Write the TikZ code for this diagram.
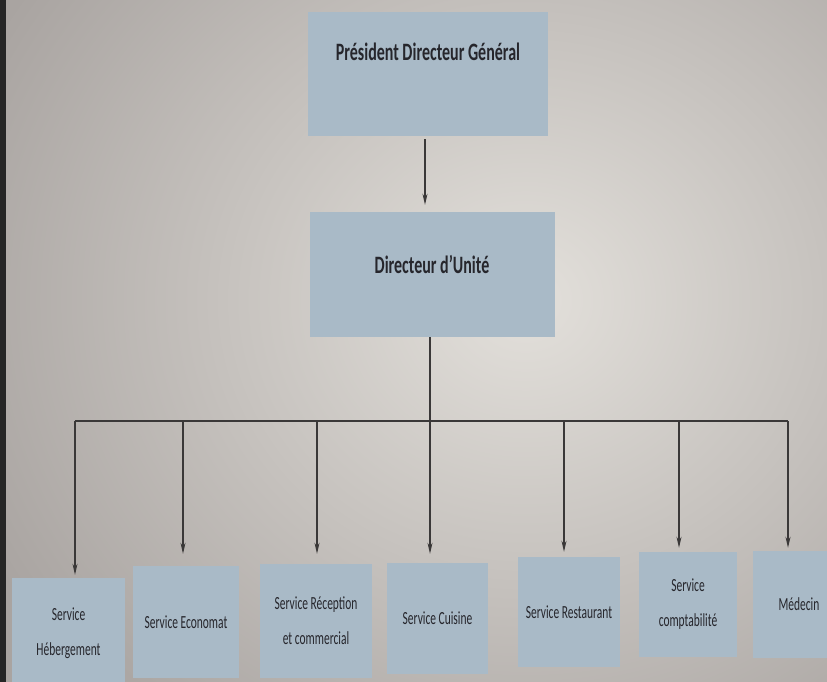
\documentclass[tikz,border=0pt]{standalone}
\usepackage{fontspec}
\setmainfont{Carlito}[FakeStretch=0.62]
\newfontfamily\titlefont{Carlito}[FakeStretch=0.64]
\usetikzlibrary{arrows.meta}
\definecolor{boxc}{HTML}{A9BAC7}
\definecolor{linec}{HTML}{3A3838}
\definecolor{bgin}{HTML}{E3E0DB}
\definecolor{bgout}{HTML}{A9A4A1}
\definecolor{txtc}{HTML}{26262C}
\tikzset{
 box/.style={fill=boxc, inner sep=0pt, text=txtc, align=center},
 conn/.style={draw=linec, line width=1.2pt},
 arr/.style={conn, -{Stealth[length=11pt,width=5pt]}},
 small/.style={font=\fontsize{18.5}{35}\selectfont},
 big/.style={font=\titlefont\bfseries\fontsize{25}{28}\selectfont, text=txtc},
}
\begin{document}
\begin{tikzpicture}[x=1pt,y=-1pt]
\useasboundingbox (0,0) rectangle (827,682);
\clip (0,0) rectangle (827,682);
\shade[inner color=bgin, outer color=bgout] (-80,-250) rectangle (1130,850);
\fill[black!85] (0,0) rectangle (6,682);
% top boxes
\node[box, minimum width=240pt, minimum height=124pt] (pdg) at (428,74) {};
\node[big] (pdgt) at (428,52) {Président Directeur Général};
\node[box, minimum width=245pt, minimum height=125pt] (dir) at (432.5,274.5) {};
\node[big] (dirt) at (432,264) {Directeur d’Unité};
% bottom boxes
\node[box, small, minimum width=113pt, minimum height=110pt] (s1) at (68.5,633) {Service\\Hébergement};
\node[box, small, minimum width=106pt, minimum height=112pt] (s2) at (186,622) {Service Economat};
\node[box, small, minimum width=112pt, minimum height=114pt] (s3) at (316,621) {Service Réception\\et commercial};
\node[box, small, minimum width=101pt, minimum height=111pt] (s4) at (437.5,618.5) {Service Cuisine};
\node[box, small, minimum width=102pt, minimum height=110pt] (s5) at (569,612) {Service Restaurant};
\node[box, small, minimum width=98pt, minimum height=105pt] (s6) at (688,604.5) {Service\\comptabilité};
\node[box, small, minimum width=92pt, minimum height=107pt] (s7) at (799,604.5) {Médecin};
% connectors
\draw[arr, shorten <=3pt, shorten >=7pt] ([xshift=-3pt]pdg.south) -- ([xshift=-3pt]pdg.south |- dir.north);
\coordinate (bc) at (430,421);
\coordinate (b1) at (75,421);
\coordinate (b2) at (183,421);
\coordinate (b3) at (317,421);
\coordinate (b4) at (430,421);
\coordinate (b5) at (564,421);
\coordinate (b6) at (679,421);
\coordinate (b7) at (788,421);
\draw[conn] (dir.south -| bc) -- (bc);
\draw[conn] (b1) -- (b7);
\draw[arr, shorten >=3pt] (b1) -- (b1 |- s1.north);
\draw[arr, shorten >=12pt] (b2) -- (b2 |- s2.north);
\draw[arr, shorten >=10pt] (b3) -- (b3 |- s3.north);
\draw[arr, shorten >=9pt] (b4) -- (b4 |- s4.north);
\draw[arr, shorten >=5pt] (b5) -- (b5 |- s5.north);
\draw[arr, shorten >=4pt] (b6) -- (b6 |- s6.north);
\draw[arr, shorten >=3pt] (b7) -- (b7 |- s7.north);
\end{tikzpicture}
\end{document}
